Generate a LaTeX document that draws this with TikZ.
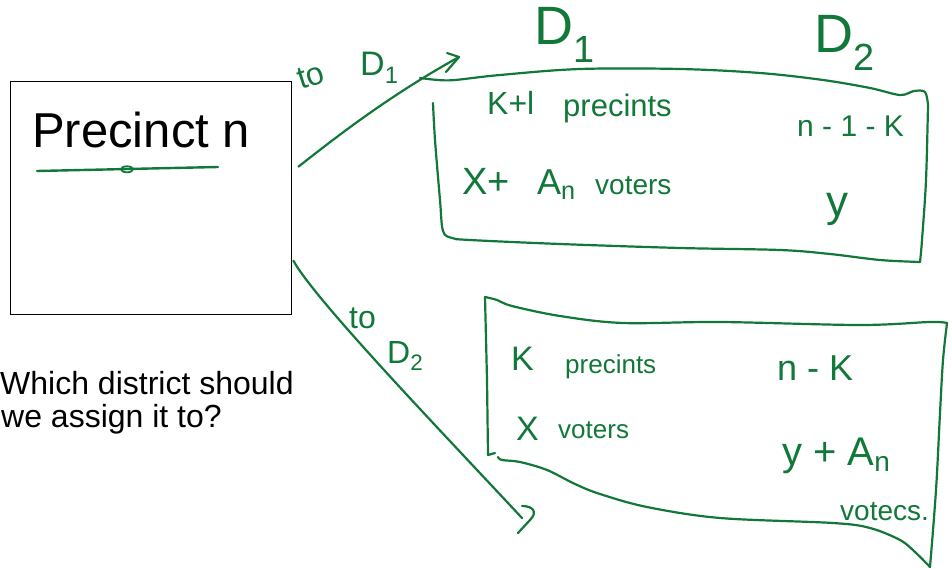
\documentclass[tikz,border=0pt]{standalone}
\usepackage{fontspec}
\setmainfont{Liberation Sans}
\definecolor{ink}{RGB}{18,120,58}
\tikzset{
  pen/.style={draw=ink, line width=2.2pt, line cap=round, line join=round},
  hw/.style={text=ink, inner sep=0pt, anchor=base west, font=\fontsize{#1}{#1}\selectfont},
  typed/.style={text=black, inner sep=0pt, anchor=base west, font=\fontsize{#1}{#1}\selectfont},
  frame/.style={draw=black, line width=1.4pt, inner sep=0pt}
}
\begin{document}
\begin{tikzpicture}[x=1pt,y=-1pt]
\useasboundingbox[fill=white] (0,0) rectangle (952,569);

% precinct box
\node[frame, minimum width=281pt, minimum height=233pt, anchor=north west] (box) at (10,81) {};
\node[typed=49] (title) at (32,148) {Precinct n};
\draw[pen, line width=2.4pt] (37,171) -- (218,167);
\draw[pen, line width=1.8pt] (127,169.3) ellipse [x radius=6, y radius=3];

\node[typed=32] (question) at (0,394) {Which district should};
\node[typed=32] (question2) at (1,427) {we assign it to?};

% arrow ends
\coordinate (a1) at (459,57);
\coordinate (a2) at (522,518);

% upper connector
\draw[pen] ([xshift=6pt,yshift=31.5pt]box.east) .. controls (330,142) and (385,98) .. (a1);
\draw[pen] ([shift={(-12,-4)}]a1) -- (a1) -- ([shift={(-13,15)}]a1);
\node[hw=32, rotate=18] (toD1) at (301,90) {to};
\node[hw=34] (D1lab) at (360,76) {D\textsubscript{1}};

% lower connector
\draw[pen] ([xshift=1pt,yshift=-62.5pt]box.east) .. controls (315,300) and (440,430) .. (a2);
\draw[pen] ([shift={(0,-12)}]a2) .. controls ([shift={(11,-12)}]a2) and ([shift={(16,-6)}]a2) .. ([shift={(8,2)}]a2) -- ([shift={(-4,15)}]a2);
\node[hw=32] (to2) at (349,328) {to};
\node[hw=32] (D2lab) at (387,363) {D\textsubscript{2}};

% district headings
\node[hw=54] (D1head) at (534,45) {D\textsubscript{1}};
\node[hw=54] (D2head) at (814,53) {D\textsubscript{2}};

% D1 box
\draw[pen] plot[smooth, tension=0.55] coordinates {(420,78) (438,80) (455,80) (500,75) (580,69) (680,69) (760,73) (823,80) (870,88) (900,95) (914,91) (925,92) (928,105)};
\draw[pen] plot[smooth, tension=0.55] coordinates {(928,105) (926,180) (922,240) (920,262)};
\draw[pen] plot[smooth, tension=0.55] coordinates {(920,262) (880,260) (830,254) (780,250) (680,248) (560,244) (470,240) (452,238) (443,231) (440,200) (435,140) (433,103)};

\node[hw=32] (d1a) at (487,115) {K+l};
\node[hw=31] (d1b) at (563,117) {precints};
\node[hw=38] (d1c) at (462,195) {X+};
\node[hw=36] (d1d) at (537,195) {A\textsubscript{n}};
\node[hw=28] (d1e) at (595,195) {voters};
\node[hw=30] (d1f) at (797,137) {n - 1 - K};
\node[hw=44] (d1g) at (826,217) {y};

% D2 box
\draw[pen] (495,453) -- (488,455) -- (487,380) -- (485,297);
\draw[pen] plot[smooth, tension=0.55] coordinates {(485,297) (497,300) (512,306) (560,316) (623,323) (720,322) (860,325) (930,322) (947,323)};
\draw[pen] plot[smooth, tension=0.55] coordinates {(947,323) (943,360) (940,413) (936,490) (930,567)};
\draw[pen] plot[smooth, tension=0.55] coordinates {(930,567) (915,552) (900,540) (870,528) (833,523) (720,518) (647,507) (600,494) (575,484) (547,470) (520,462) (502,460) (498,457)};

\node[hw=34] (d2a) at (511,370) {K};
\node[hw=26] (d2b) at (565,373) {precints};
\node[hw=34] (d2c) at (516,440) {X};
\node[hw=26] (d2d) at (558,438) {voters};
\node[hw=36] (d2e) at (777,380) {n - K};
\node[hw=40] (d2f) at (782,465) {y + A\textsubscript{n}};
\node[hw=28] (d2g) at (840,520) {votecs.};
\end{tikzpicture}
\end{document}
